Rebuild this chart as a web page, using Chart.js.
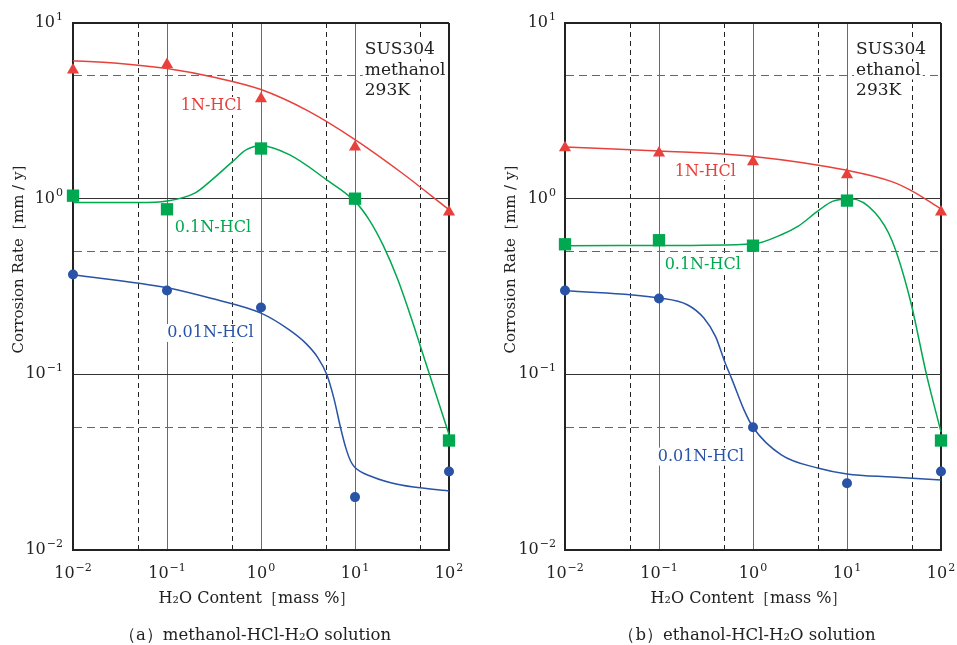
<!DOCTYPE html>
<html>
<head>
<meta charset="utf-8">
<script src="https://cdn.jsdelivr.net/npm/chart.js@4.4.1/dist/chart.umd.min.js"></script>
<style>
    body { margin: 0; background: #fff; }
    #wrap { position: relative; width: 957px; height: 645px; }
    canvas { position: absolute; top: 0; }
</style>
</head>
<body>
<div id="wrap">
    <canvas id="chartA" width="478" height="645" style="left:0"></canvas>
    <canvas id="chartB" width="479" height="645" style="left:478px"></canvas>
</div>
<script>
const FONT = '"DejaVu Serif", "Liberation Serif", serif';
const RED = "#e8413c";
const GREEN = "#00a84f";
const BLUE = "#2853a6";
const INK = "#222";

// measured H2O contents (mass %)
const h2oContent = [0.01, 0.1, 1, 10, 100];
const xTickValues = [0.01, 0.1, 1, 10, 100];
const yTickValues = [0.01, 0.1, 1, 10];
const xGridValues = [0.01, 0.05, 0.1, 0.5, 1, 5, 10, 50, 100];
const yGridValues = [0.01, 0.05, 0.1, 0.5, 1, 5, 10];

// (a) methanol - measured points (mm/y)
const methanol1N = [5.4, 5.8, 3.7, 1.97, 0.84];
const methanol01N = [1.04, 0.87, 1.93, 1.0, 0.042];
const methanol001N = [0.37, 0.30, 0.24, 0.020, 0.028];

// (a) methanol - fitted curves
const methanolCurve1NX = [0.01, 0.0316, 0.1, 0.316, 1, 3.16, 10, 31.6, 100];
const methanolCurve1NY = [6.1, 5.89, 5.5, 4.91, 4.18, 3.16, 2.17, 1.40, 0.865];
const methanolCurve01NX = [0.01, 0.05, 0.1, 0.2, 0.3, 0.5, 0.7, 1, 2, 5, 10, 14.1, 20, 28.2, 39.8, 56.2, 100];
const methanolCurve01NY = [0.95, 0.95, 0.97, 1.08, 1.28, 1.63, 1.9, 2.0, 1.78, 1.28, 0.965, 0.76, 0.54, 0.352, 0.208, 0.1175, 0.0455];
const methanolCurve001NX = [0.01, 0.1, 0.3, 1, 2, 3, 4, 5, 6, 7, 8, 9, 10, 15, 30, 100];
const methanolCurve001NY = [0.369, 0.311, 0.27, 0.223, 0.179, 0.15, 0.125, 0.1, 0.072, 0.05, 0.038, 0.032, 0.0295, 0.0262, 0.0235, 0.0217];

// (b) ethanol - measured points (mm/y)
const ethanol1N = [1.95, 1.82, 1.62, 1.37, 0.84];
const ethanol01N = [0.55, 0.58, 0.54, 0.975, 0.042];
const ethanol001N = [0.30, 0.27, 0.050, 0.024, 0.028];

// (b) ethanol - fitted curves
const ethanolCurve1NX = [0.01, 0.1, 1, 10, 30, 50, 100];
const ethanolCurve1NY = [1.97, 1.87, 1.74, 1.45, 1.25, 1.1, 0.873];
const ethanolCurve01NX = [0.01, 0.1, 1, 2, 3, 5, 7, 11, 20, 30, 47, 70, 100];
const ethanolCurve01NY = [0.54, 0.541, 0.552, 0.623, 0.695, 0.858, 0.965, 1.0, 0.83, 0.58, 0.266, 0.1, 0.047];
const ethanolCurve001NX = [0.01, 0.1, 0.2, 0.3, 0.4, 0.5, 0.6, 0.8, 1, 2, 5, 10, 30, 100];
const ethanolCurve001NY = [0.30, 0.272, 0.249, 0.209, 0.164, 0.118, 0.093, 0.063, 0.050, 0.0348, 0.0292, 0.0271, 0.026, 0.025];

function markers(ys, color, style, radius) {
    return {
        type: "scatter",
        data: h2oContent.map((x, i) => ({ x, y: ys[i] })),
        pointStyle: style,
        pointRadius: radius,
        backgroundColor: color,
        borderWidth: 0,
        clip: false
    };
}

function curve(xs, ys, color) {
    return {
        type: "line",
        data: xs.map((x, i) => ({ x, y: ys[i] })),
        borderColor: color,
        borderWidth: 1.5,
        pointRadius: 0,
        fill: false,
        cubicInterpolationMode: "monotone",
        clip: false
    };
}

const isHalf = v => Math.abs(Math.log10(v) - Math.round(Math.log10(v))) > 0.1;

function drawPower(ctx, v, px, py, align) {
    const exp = Math.round(Math.log10(v));
    const expStr = exp < 0 ? "\u2212" + (-exp) : String(exp);
    ctx.font = "16px " + FONT;
    const wb = ctx.measureText("10").width;
    ctx.font = "11px " + FONT;
    const we = ctx.measureText(expStr).width;
    const total = wb + 1 + we;
    const start = align === "center" ? px - total / 2 : px - total;
    ctx.textAlign = "left";
    ctx.textBaseline = "middle";
    ctx.font = "16px " + FONT;
    ctx.fillText("10", start, py);
    ctx.font = "11px " + FONT;
    ctx.fillText(expStr, start + wb + 1, py - 6);
}

// text with a white patch behind it, so grid lines stop at the label
function label(ctx, text, x, y, color, align) {
    const w = ctx.measureText(text).width;
    const left = align === "left" ? x : x - w / 2;
    ctx.fillStyle = "#fff";
    ctx.fillRect(left - 2, y - 9, w + 4, 18);
    ctx.fillStyle = color;
    ctx.textAlign = align;
    ctx.fillText(text, x, y);
}

function textPlugin(cfg) {
    return {
        id: "texts",
        afterDatasetsDraw(chart) {
            const { ctx, scales: { x, y } } = chart;
            ctx.save();
            ctx.textBaseline = "middle";
            ctx.font = "16px " + FONT;
            cfg.notes.forEach(n => label(ctx, n.text, x.getPixelForValue(n.x), y.getPixelForValue(n.y), n.color, "center"));
            ctx.font = "17px " + FONT;
            const sx = x.getPixelForValue(cfg.sampleX);
            cfg.sample.forEach((line, i) => label(ctx, line, sx, 50 + i * 20.5, INK, "left"));
            ctx.restore();
        },
        afterDraw(chart) {
            const { ctx, chartArea: a, scales: { x, y } } = chart;
            ctx.save();
            ctx.fillStyle = INK;
            xTickValues.forEach(v => drawPower(ctx, v, x.getPixelForValue(v), a.bottom + 24, "center"));
            yTickValues.forEach(v => drawPower(ctx, v, a.left - cfg.yLabelGap, y.getPixelForValue(v), "right"));

            ctx.textAlign = "center";
            ctx.textBaseline = "alphabetic";
            ctx.font = "16px " + FONT;
            const mid = (a.left + a.right) / 2;
            ctx.fillText("H\u2082O Content\uFF3Bmass %\uFF3D", mid - 4, 603);
            ctx.font = "16.5px " + FONT;
            ctx.fillText(cfg.caption, mid - 6, 640);

            // y axis title
            ctx.translate(a.left - 54, 255);
            ctx.rotate(-Math.PI / 2);
            ctx.textBaseline = "middle";
            ctx.font = "15px " + FONT;
            ctx.fillText("Corrosion Rate\uFF3Bmm / y\uFF3D", 0, 0);
            ctx.restore();
        }
    };
}

function axis(gridValues, min, max, isX, size) {
    return {
        type: "logarithmic",
        min: min,
        max: max,
        afterBuildTicks: s => { s.ticks = gridValues.map(v => ({ value: v })); },
        afterFit: s => { if (isX) s.height = size; else s.width = size; },
        ticks: { display: false },
        grid: {
            drawTicks: false,
            color: c => {
                const v = c.tick ? c.tick.value : 1;
                if (v === min || v === max) return INK;
                if (isHalf(v)) return isX ? "#222" : "#666";
                return isX ? "#6a6a6a" : "#333";
            },
            lineWidth: c => {
                const v = c.tick ? c.tick.value : 1;
                return (v === min || v === max) ? 2 : 1;
            }
        },
        border: {
            display: true,
            width: 2,
            color: INK,
            dash: c => (c.tick && isHalf(c.tick.value)) ? (isX ? [5, 4] : [8, 5]) : []
        }
    };
}

function makeChart(id, sets, cfg) {
    new Chart(document.getElementById(id), {
        type: "scatter",
        data: { datasets: sets },
        options: {
            responsive: false,
            animation: false,
            layout: { padding: { left: 0, right: cfg.rightPad, top: 23, bottom: 0 } },
            plugins: { legend: { display: false }, tooltip: { enabled: false } },
            scales: {
                x: axis(xGridValues, 0.01, 100, true, 95),
                y: axis(yGridValues, 0.01, 10, false, cfg.leftWidth)
            }
        },
        plugins: [textPlugin(cfg)]
    });
}

makeChart("chartA", [
    markers(methanol1N, RED, "triangle", 7),
    markers(methanol01N, GREEN, "rect", 8.7),
    markers(methanol001N, BLUE, "circle", 5),
    curve(methanolCurve1NX, methanolCurve1NY, RED),
    curve(methanolCurve01NX, methanolCurve01NY, GREEN),
    curve(methanolCurve001NX, methanolCurve001NY, BLUE)
], {
    leftWidth: 73,
    rightPad: 29,
    yLabelGap: 10,
    caption: "\uFF08a\uFF09methanol-HCl-H\u2082O solution",
    sample: ["SUS304", "methanol", "293K"],
    sampleX: 12.7,
    notes: [
        { text: "1N-HCl", x: 0.295, y: 3.37, color: RED },
        { text: "0.1N-HCl", x: 0.308, y: 0.681, color: GREEN },
        { text: "0.01N-HCl", x: 0.29, y: 0.172, color: BLUE }
    ]
});

makeChart("chartB", [
    markers(ethanol1N, RED, "triangle", 7),
    markers(ethanol01N, GREEN, "rect", 8.7),
    markers(ethanol001N, BLUE, "circle", 5),
    curve(ethanolCurve1NX, ethanolCurve1NY, RED),
    curve(ethanolCurve01NX, ethanolCurve01NY, GREEN),
    curve(ethanolCurve001NX, ethanolCurve001NY, BLUE)
], {
    leftWidth: 87,
    rightPad: 16,
    yLabelGap: 9,
    caption: "\uFF08b\uFF09ethanol-HCl-H\u2082O solution",
    sample: ["SUS304", "ethanol", "293K"],
    sampleX: 12.5,
    notes: [
        { text: "1N-HCl", x: 0.311, y: 1.43, color: RED },
        { text: "0.1N-HCl", x: 0.292, y: 0.421, color: GREEN },
        { text: "0.01N-HCl", x: 0.279, y: 0.034, color: BLUE }
    ]
});
</script>
</body>
</html>
